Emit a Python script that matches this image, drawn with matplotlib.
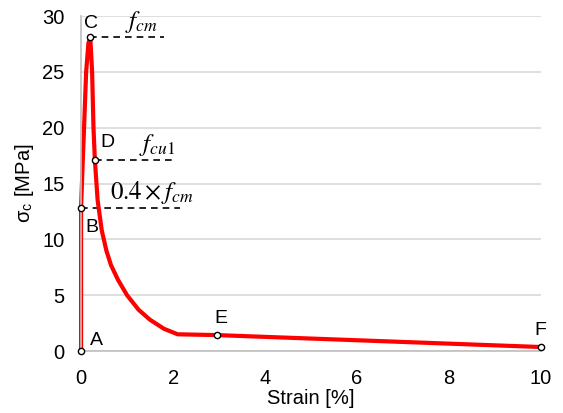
import matplotlib.pyplot as plt

# curve
strain = [0, 0.0, 0.03, 0.065, 0.11, 0.16, 0.2, 0.24, 0.27, 0.3, 0.36, 0.45, 0.55, 0.65, 0.8, 1.0, 1.25, 1.5, 1.8, 2.1, 2.95, 10]
stress = [0, 12.8, 16.3, 20.0, 25.0, 27.6, 28.1, 25.0, 20.0, 17.1, 13.5, 10.8, 9.0, 7.7, 6.4, 5.0, 3.7, 2.8, 2.0, 1.5, 1.43, 0.36]

# labelled points
pt_names = ["A", "B", "C", "D", "E", "F"]
pt_strain = [0, 0, 0.2, 0.3, 2.95, 10]
pt_stress = [0, 12.8, 28.1, 17.1, 1.43, 0.36]
pt_offsets = [(0.2, 0.2), (0.1, -2.5), (-0.14, 0.5), (0.13, 0.8), (-0.05, 0.75), (-0.14, 0.75)]

# dashed guides: (strain start, strain end, stress, label)
guide_start = [0.2, 0.3, 0]
guide_end = [1.8, 2.0, 2.15]
guide_y = [28.1, 17.1, 12.8]
guide_text = [r"$f_{cm}$", r"$f_{cu1}$", r"$0.4\times f_{cm}$"]
guide_text_x = [0.95, 1.25, 0.63]
guide_text_y = [28.3, 17.3, 13.0]

plt.rcParams["font.family"] = ["Liberation Sans", "DejaVu Sans"]
plt.rcParams["mathtext.fontset"] = "stix"

fig = plt.figure(figsize=(5.63, 4.13), dpi=100)
ax = fig.add_axes([0.144, 0.150, 0.817, 0.811])

ax.set_xlim(0, 10)
ax.set_ylim(0, 30)
ax.set_xticks([0, 2, 4, 6, 8, 10])
ax.set_yticks([0, 5, 10, 15, 20, 25, 30])
ax.grid(axis="y", color="#d9d9d9", linewidth=1.2)
ax.set_axisbelow(True)
for s in ["top", "right"]:
    ax.spines[s].set_visible(False)
for s in ["left", "bottom"]:
    ax.spines[s].set_color("#bfbfbf")
    ax.spines[s].set_linewidth(1.2)
ax.tick_params(axis="x", length=0, labelsize=14.5, pad=13)
ax.tick_params(axis="y", length=0, labelsize=14.5, pad=12)

for x0, x1, y, t, tx, ty in zip(guide_start, guide_end, guide_y, guide_text, guide_text_x, guide_text_y):
    ax.plot([x0, x1], [y, y], color="black", linestyle=(0, (4, 3)), linewidth=1.2)
    ax.text(tx, ty, t, fontsize=18, ha="left", va="bottom")

ax.plot(strain, stress, color="#ff0000", linewidth=3, solid_joinstyle="round", clip_on=False)
ax.plot(pt_strain, pt_stress, linestyle="none", marker="o", markersize=4.5,
        markerfacecolor="white", markeredgecolor="black", markeredgewidth=1, clip_on=False, zorder=5)

for n, x, y, (dx, dy) in zip(pt_names, pt_strain, pt_stress, pt_offsets):
    ax.text(x + dx, y + dy, n, fontsize=14, ha="left", va="bottom")

ax.set_xlabel("Strain [%]", fontsize=14.5, labelpad=1)
ax.set_ylabel(r"σ$_\mathregular{c}$ [MPa]", fontsize=14.5, labelpad=4)

fig.savefig("out.png", dpi=100)
